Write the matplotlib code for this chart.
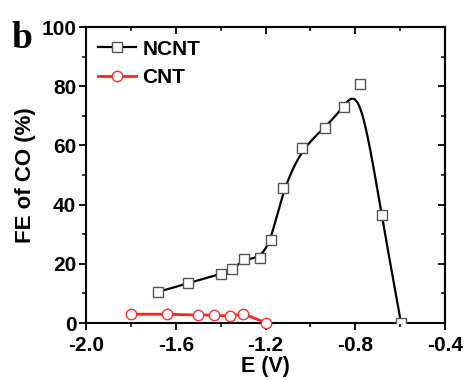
import numpy as np
import matplotlib
matplotlib.use('Agg')
import matplotlib.pyplot as plt
from matplotlib.ticker import MultipleLocator

plt.rcParams['font.family'] = ['Liberation Sans', 'DejaVu Sans']
plt.rcParams['font.weight'] = 'bold'
plt.rcParams['axes.unicode_minus'] = False

# NCNT: potential (V) and FE of CO (%)
ncnt_e = [-1.68, -1.545, -1.40, -1.348, -1.295, -1.223, -1.174, -1.12,
          -1.036, -0.937, -0.852, -0.78, -0.683, -0.596]
ncnt_fe = [10.5, 13.5, 16.5, 18.2, 21.6, 22.0, 28.0, 45.6,
           59.1, 65.9, 73.0, 80.7, 36.5, 0.0]

# CNT
cnt_e = [-1.80, -1.64, -1.50, -1.43, -1.357, -1.30, -1.196]
cnt_fe = [3.0, 3.0, 2.7, 2.7, 2.3, 3.2, 0.0]


def bspline(x, y, n=40):
    '''uniform cubic B-spline through control points (ends clamped)'''
    px = np.r_[[x[0]] * 2, x, [x[-1]] * 2]
    py = np.r_[[y[0]] * 2, y, [y[-1]] * 2]
    t = np.linspace(0, 1, n)
    b0 = (1 - t) ** 3 / 6
    b1 = (3 * t ** 3 - 6 * t ** 2 + 4) / 6
    b2 = (-3 * t ** 3 + 3 * t ** 2 + 3 * t + 1) / 6
    b3 = t ** 3 / 6
    xs, ys = [], []
    for i in range(len(px) - 3):
        xs.append(b0 * px[i] + b1 * px[i + 1] + b2 * px[i + 2] + b3 * px[i + 3])
        ys.append(b0 * py[i] + b1 * py[i + 1] + b2 * py[i + 2] + b3 * py[i + 3])
    return np.concatenate(xs), np.concatenate(ys)


fig = plt.figure(figsize=(4.66, 3.81), dpi=100)
ax = fig.add_axes([0.1845, 0.152, 0.7705, 0.777])

sx, sy = bspline(ncnt_e, ncnt_fe)
ax.plot(sx, sy, color='black', lw=1.6, zorder=2)
ax.plot(ncnt_e, ncnt_fe, ls='none', marker='s', ms=6.5, mfc='white',
        mec='#555555', mew=1.0, zorder=3)
# legend proxy
ax.plot([], [], color='black', lw=1.6, marker='s', ms=6.5, mfc='white',
        mec='#555555', mew=1.0, label='NCNT')

ax.plot(cnt_e, cnt_fe, color='#ff2020', lw=2.0, marker='o', ms=7.5,
        mfc='white', mec='#ff3030', mew=1.0, label='CNT', zorder=3,
        clip_on=False)

ax.set_xlim(-2.0, -0.4)
ax.set_ylim(0, 100)
ax.xaxis.set_major_locator(MultipleLocator(0.4))
ax.xaxis.set_minor_locator(MultipleLocator(0.2))
ax.yaxis.set_major_locator(MultipleLocator(20))
ax.yaxis.set_minor_locator(MultipleLocator(10))
ax.xaxis.set_major_formatter(matplotlib.ticker.FormatStrFormatter('%.1f'))

for s in ax.spines.values():
    s.set_linewidth(1.5)
ax.tick_params(which='major', direction='out', length=5, width=1.3,
               labelsize=15, pad=2)
ax.tick_params(axis='x', which='major', pad=4)
ax.tick_params(which='minor', direction='out', length=3, width=1.1)

top = ax.secondary_xaxis('top')
top.xaxis.set_major_locator(MultipleLocator(0.4))
top.xaxis.set_minor_locator(MultipleLocator(0.2))
top.tick_params(which='major', direction='in', length=5, width=1.3,
                labeltop=False)
top.tick_params(which='minor', direction='in', length=3, width=1.1)
right = ax.secondary_yaxis('right')
right.yaxis.set_major_locator(MultipleLocator(20))
right.yaxis.set_minor_locator(MultipleLocator(10))
right.tick_params(which='major', direction='in', length=5, width=1.3,
                  labelright=False)
right.tick_params(which='minor', direction='in', length=3, width=1.1)
for sa in (top, right):
    for s in sa.spines.values():
        s.set_linewidth(1.5)

ax.set_xlabel('E (V)', fontsize=15.5, fontweight='bold', labelpad=1)
ax.set_ylabel('FE of CO (%)', fontsize=16, fontweight='bold', labelpad=4)

ax.legend(loc='upper left', frameon=False, fontsize=15, handlelength=1.8,
          handletextpad=0.3, labelspacing=0.45, borderaxespad=0.2,
          bbox_to_anchor=(0.0, 1.0))

fig.text(0.025, 0.875, 'b', fontsize=27, fontweight='bold',
         family=['Liberation Serif', 'DejaVu Serif'])

fig.savefig('out.png', dpi=100)
